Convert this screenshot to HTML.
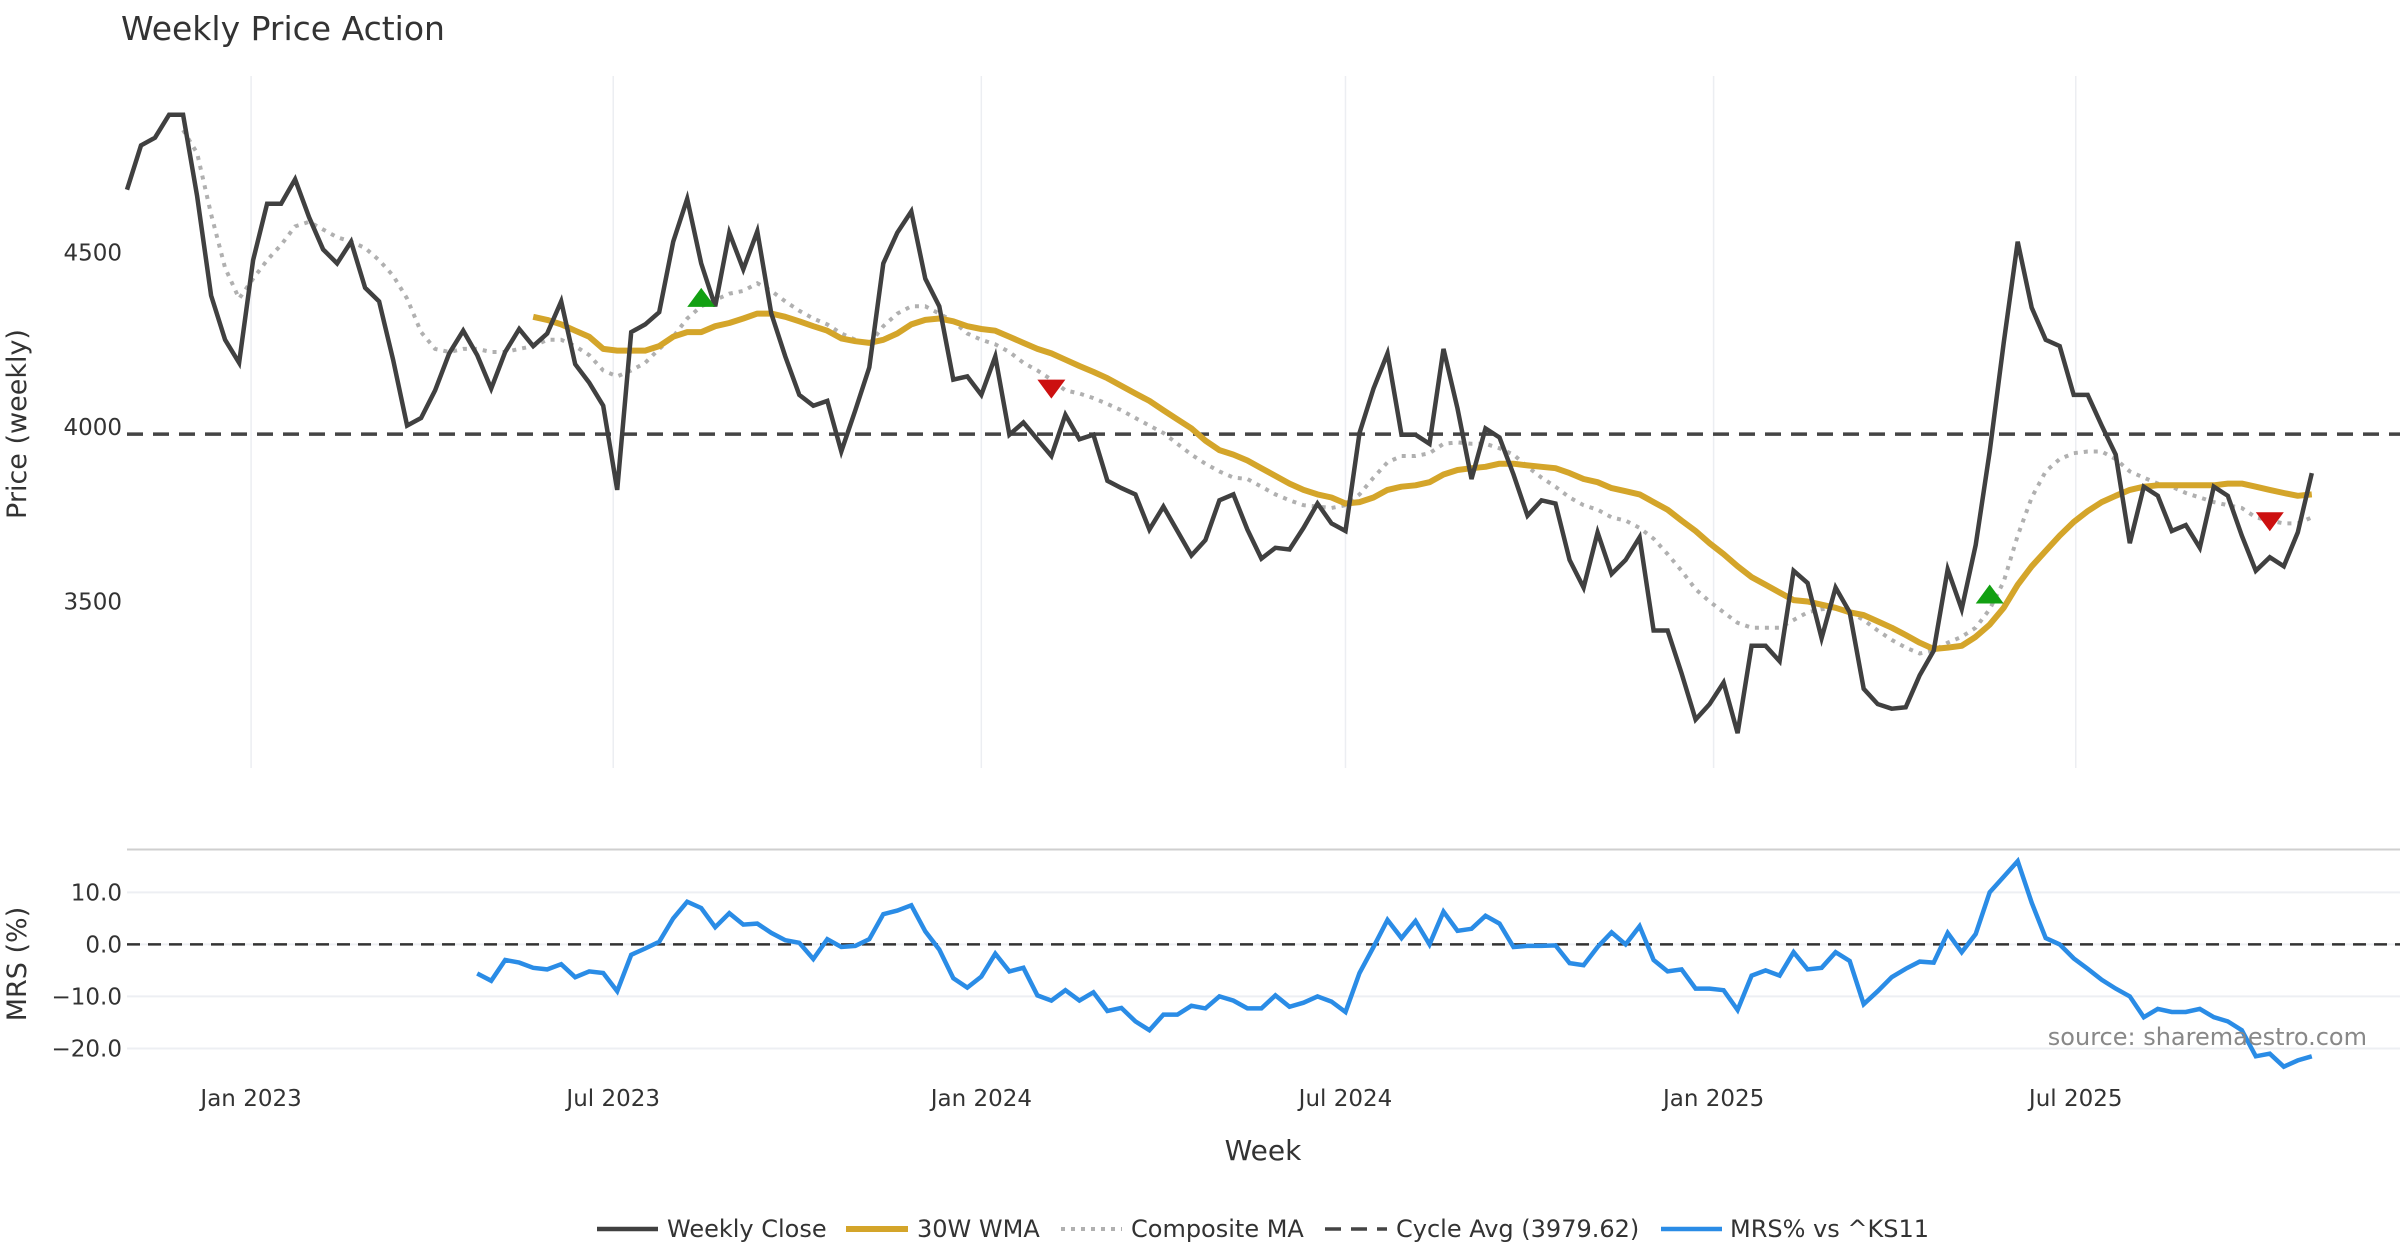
<!DOCTYPE html>
<html><head><meta charset="utf-8"><title>Weekly Price Action</title>
<style>
html,body{margin:0;padding:0;background:#fff;}
svg{display:block;font-family:"DejaVu Sans","Liberation Sans",sans-serif;}
</style></head>
<body>
<svg id="chart" width="2400" height="1260" viewBox="0 0 2400 1260" xmlns="http://www.w3.org/2000/svg">
<rect width="2400" height="1260" fill="#fff"/>
<text x="121" y="40" font-size="33" fill="#333">Weekly Price Action</text>
<g id="grid"></g>
<g id="series"></g>
<g id="axes"></g>
<text transform="translate(26,424) rotate(-90)" text-anchor="middle" font-size="27" fill="#333">Price (weekly)</text>
<text transform="translate(26,964) rotate(-90)" text-anchor="middle" font-size="27" fill="#333">MRS (%)</text>
<text x="1263" y="1160" text-anchor="middle" font-size="28" fill="#333">Week</text>
<text x="2367" y="1045" text-anchor="end" font-size="24" fill="#888">source: sharemaestro.com</text>
<g font-size="24" fill="#333">
  <g><line x1="597" y1="1229" x2="658" y2="1229" stroke="#404040" stroke-width="4.5"/><text x="667" y="1237">Weekly Close</text></g>
  <g><line x1="846" y1="1229" x2="908" y2="1229" stroke="#d4a52a" stroke-width="6"/><text x="917" y="1237">30W WMA</text></g>
  <g><line x1="1061" y1="1229" x2="1122" y2="1229" stroke="#b0b0b0" stroke-width="4" stroke-dasharray="4,6"/><text x="1131" y="1237">Composite MA</text></g>
  <g><line x1="1325" y1="1229" x2="1387" y2="1229" stroke="#444" stroke-width="3.5" stroke-dasharray="16,10"/><text x="1396" y="1237">Cycle Avg (3979.62)</text></g>
  <g><line x1="1661" y1="1229" x2="1722" y2="1229" stroke="#2a8ce6" stroke-width="4.5"/><text x="1730" y="1237">MRS% vs ^KS11</text></g>
</g>
</svg>
<script>
const closeVals=[4680,4807,4829,4895,4895,4662,4377,4250,4184,4478,4640,4640,4710,4601,4509,4469,4531,4399,4360,4193,4004,4026,4105,4211,4276,4206,4110,4215,4281,4232,4268,4360,4180,4127,4061,3820,4272,4294,4329,4531,4654,4469,4346,4557,4452,4561,4325,4202,4092,4061,4075,3930,4048,4171,4469,4557,4618,4425,4346,4136,4145,4092,4202,3978,4013,3965,3917,4035,3965,3978,3846,3825,3807,3706,3772,3702,3632,3676,3790,3807,3706,3623,3654,3649,3711,3781,3724,3702,3983,4110,4211,3978,3978,3952,4224,4053,3851,3996,3970,3864,3746,3790,3781,3619,3540,3698,3579,3619,3684,3417,3417,3294,3162,3206,3268,3123,3373,3373,3329,3588,3553,3395,3540,3469,3250,3206,3193,3197,3289,3359,3592,3478,3662,3930,4241,4531,4342,4250,4232,4092,4092,4004,3921,3667,3829,3803,3702,3719,3654,3829,3803,3689,3588,3627,3601,3698,3868];
const wmaVals=[4316,4307,4294,4276,4259,4224,4219,4219,4219,4232,4259,4272,4272,4289,4298,4311,4325,4325,4316,4303,4289,4276,4254,4246,4241,4250,4268,4294,4307,4311,4303,4289,4281,4276,4259,4241,4224,4211,4193,4175,4158,4140,4118,4096,4075,4048,4022,3996,3961,3934,3921,3904,3882,3860,3838,3820,3807,3798,3781,3785,3798,3820,3829,3833,3842,3864,3877,3882,3886,3895,3895,3890,3886,3882,3868,3851,3842,3825,3816,3807,3785,3763,3732,3702,3667,3636,3601,3570,3548,3526,3504,3500,3491,3482,3469,3461,3443,3425,3404,3382,3364,3368,3373,3399,3434,3482,3548,3601,3645,3689,3728,3759,3785,3803,3820,3829,3833,3833,3833,3833,3833,3838,3838,3829,3820,3811,3803,3807];
const compVals=[4851,4785,4610,4456,4368,4425,4478,4522,4575,4588,4566,4544,4531,4513,4478,4434,4368,4272,4224,4215,4224,4224,4215,4215,4224,4232,4250,4250,4232,4206,4162,4145,4162,4184,4224,4259,4311,4346,4364,4382,4390,4412,4390,4360,4333,4311,4294,4268,4250,4237,4289,4325,4346,4346,4325,4303,4268,4250,4237,4215,4184,4162,4136,4105,4096,4083,4066,4048,4026,4004,3983,3952,3921,3895,3873,3855,3851,3829,3807,3790,3776,3772,3768,3776,3807,3855,3899,3917,3917,3925,3952,3956,3952,3952,3939,3921,3886,3855,3829,3798,3776,3763,3741,3732,3711,3680,3636,3588,3535,3500,3469,3439,3425,3425,3425,3447,3469,3478,3482,3469,3447,3417,3390,3368,3351,3360,3382,3399,3425,3478,3557,3689,3798,3873,3908,3925,3930,3930,3908,3873,3855,3838,3829,3811,3798,3785,3776,3768,3741,3732,3724,3724,3741];
const mrsVals=[-5.6,-7,-3,-3.5,-4.5,-4.8,-3.8,-6.3,-5.2,-5.5,-9,-2,-0.8,0.5,5,8.2,7,3.3,6,3.8,4,2.2,0.8,0.3,-2.8,1,-0.5,-0.3,1,5.8,6.5,7.5,2.5,-1,-6.5,-8.3,-6.2,-1.8,-5.2,-4.5,-9.8,-10.8,-8.8,-10.8,-9.2,-12.8,-12.2,-14.8,-16.5,-13.5,-13.5,-11.8,-12.3,-10,-10.8,-12.3,-12.3,-9.8,-12,-11.2,-10,-11,-13,-5.5,-0.5,4.7,1.2,4.5,0,6.3,2.6,3,5.5,4,-0.5,-0.3,-0.3,-0.2,-3.6,-4,-0.5,2.3,0,3.5,-3,-5.2,-4.8,-8.5,-8.5,-8.8,-12.6,-6,-5,-6,-1.5,-4.8,-4.5,-1.5,-3.2,-11.5,-9,-6.3,-4.7,-3.3,-3.5,2.2,-1.5,2,10,13,16,8,1.2,0,-2.7,-4.7,-6.8,-8.5,-10,-14,-12.4,-13,-13,-12.4,-14,-14.8,-16.5,-21.5,-21,-23.5,-22.3,-21.5];
const cycleAvg=3979.62;
const buyIdx=[41,133];
const buyVals=[4370,3520];
const sellIdx=[66,153];
const sellVals=[4110,3730];
const priceTicks=[3500,4000,4500];
const mrsTicks=[10,0,-10,-20];
const dateTickLabels=["Jan 2023","Jul 2023","Jan 2024","Jul 2024","Jan 2025","Jul 2025"];
const dateTicks=["2023-01-01","2023-07-01","2024-01-01","2024-07-01","2025-01-01","2025-07-01"];
const startDate="2022-10-31";

const S=1.5306, NS="http://www.w3.org/2000/svg";
function X(i){return (83+i*9.15)*S;}
function XD(d){const days=(Date.parse(d)-Date.parse(startDate))/86400000;return X(days/7);}
function Y(v){return (165+(4500-v)*0.228)*S;}
function YM(v){return (617-v*3.4)*S;}
function mk(tag,attrs,parent){const e=document.createElementNS(NS,tag);for(const k in attrs)e.setAttribute(k,attrs[k]);parent.appendChild(e);return e;}
const grid=document.getElementById('grid'),series=document.getElementById('series'),axes=document.getElementById('axes');
const n=closeVals.length;
function pathOf(vals,yf){const off=n-vals.length;return vals.map((v,k)=>(k?'L':'M')+X(off+k).toFixed(1)+' '+yf(v).toFixed(1)).join(' ');}

dateTicks.forEach((d,k)=>{
  const x=XD(d);
  const g=mk('line',{x1:x,x2:x,y1:76,y2:768,stroke:'#eceef2','stroke-width':1.5},grid);
  
  
  const t=mk('text',{x:x,y:1106,'text-anchor':'middle','font-size':23,fill:'#333'},axes);
  t.textContent=dateTickLabels[k];
  
  
});
priceTicks.forEach(v=>{
  const t=mk('text',{x:122,y:Y(v)+8,'text-anchor':'end','font-size':23,fill:'#333'},axes);
  t.textContent=String(v);
  
  
});
const sep=mk('line',{x1:127,x2:2400,y1:849.5,y2:849.5,stroke:'#cfcfcf','stroke-width':2},grid);


mrsTicks.forEach(v=>{
  const l=mk('line',{x1:127,x2:2400,y1:YM(v),y2:YM(v),stroke:'#edeff3','stroke-width':2},grid);
  
  
  const t=mk('text',{x:122,y:YM(v)+8,'text-anchor':'end','font-size':23,fill:'#333'},axes);
  t.textContent=(v<0?'\u2212':'')+Math.abs(v).toFixed(1);
  
  
});
const z=mk('line',{x1:127,x2:2400,y1:YM(0),y2:YM(0),stroke:'#333','stroke-width':2.5,'stroke-dasharray':'13,8'},grid);


const ca=mk('line',{x1:127,x2:2400,y1:Y(cycleAvg),y2:Y(cycleAvg),stroke:'#444','stroke-width':3.5,'stroke-dasharray':'16,10'},series);


const pc=mk('path',{d:pathOf(compVals,Y),fill:'none',stroke:'#b0b0b0','stroke-width':4,'stroke-dasharray':'4,6'},series);


const pw=mk('path',{d:pathOf(wmaVals,Y),fill:'none',stroke:'#d4a52a','stroke-width':6,'stroke-linejoin':'round'},series);


const pcl=mk('path',{d:pathOf(closeVals,Y),fill:'none',stroke:'#404040','stroke-width':4.5,'stroke-linejoin':'miter'},series);


const pm=mk('path',{d:pathOf(mrsVals,YM),fill:'none',stroke:'#2a8ce6','stroke-width':4.5},series);


buyIdx.forEach((i,k)=>{
  const x=X(i),y=Y(buyVals[k]);
  const p=mk('path',{d:`M${x-14} ${y+9} L${x} ${y-10} L${x+14} ${y+9} Z`,fill:'#12a012'},series);
  
  
});
sellIdx.forEach((i,k)=>{
  const x=X(i),y=Y(sellVals[k]);
  const p=mk('path',{d:`M${x-14} ${y-9} L${x} ${y+10} L${x+14} ${y-9} Z`,fill:'#cc1010'},series);
  
  
});
</script>
</body></html>
